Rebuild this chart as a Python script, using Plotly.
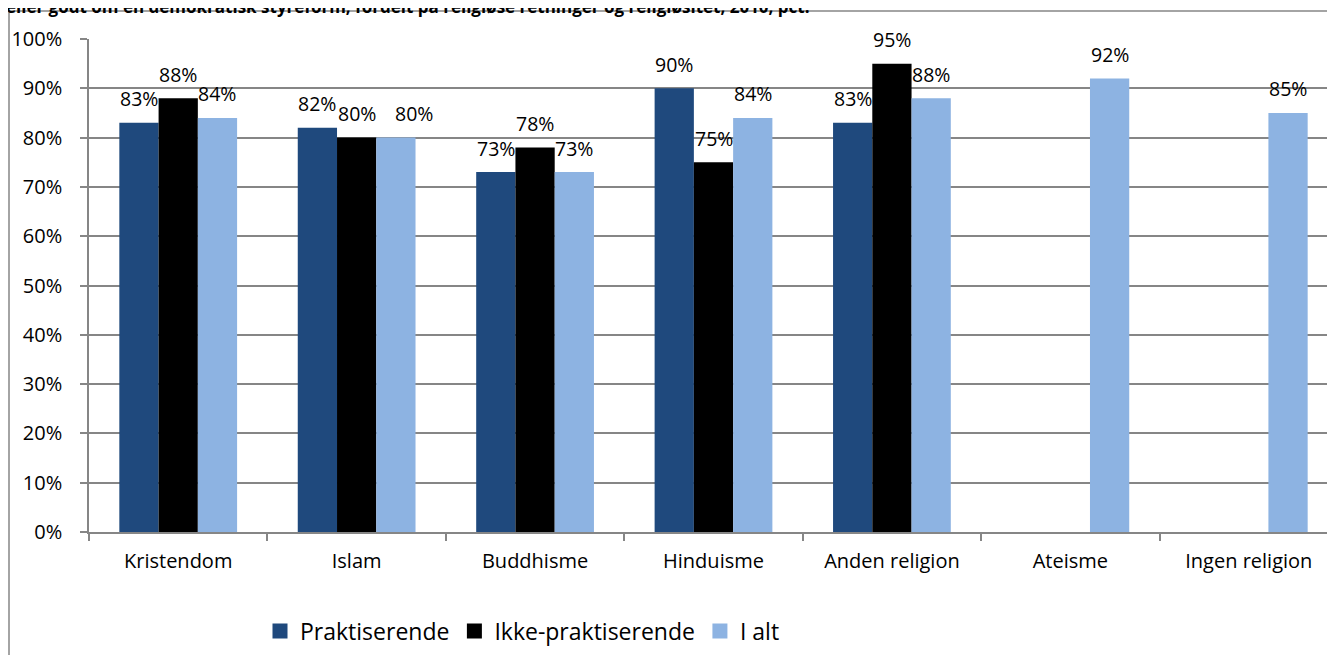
import plotly.graph_objects as go

categories = ["Kristendom", "Islam", "Buddhisme", "Hinduisme", "Anden religion", "Ateisme", "Ingen religion"]
series_names = ["Praktiserende", "Ikke-praktiserende", "I alt"]
praktiserende = [83, 82, 73, 90, 83, None, None]
ikke_praktiserende = [88, 80, 78, 75, 95, None, None]
i_alt = [84, 80, 73, 84, 88, 92, 85]
y_ticks = [0, 10, 20, 30, 40, 50, 60, 70, 80, 90, 100]
title_text = "eller godt om en demokratisk styreform, fordelt på religiøse retninger og religiøsitet, 2010, pct."

colors = ["#1F497D", "#000000", "#8DB3E2"]
series_values = [praktiserende, ikke_praktiserende, i_alt]
# label nudges (styling): (series index, category index) -> x shift in px
label_nudge = {(2, 1): 18}

W, H = 1335, 655
L, R, T, B = 81, 5, 31, 131
plot_w = W - L - R
plot_h = H - T - B
BARGAP = 0.34
FONT = "Open Sans"
GRID = "#868686"


def px_x(fx):
    return (fx - L) / plot_w


def px_y(fy):
    return (plot_h + T - fy) / plot_h


fig = go.Figure()
for name, vals, col in zip(series_names, series_values, colors):
    fig.add_trace(go.Bar(
        name=name, x=categories, y=vals, showlegend=False,
        marker=dict(color=col, line=dict(width=0)),
    ))
# legend entries with larger square swatches
for name, col in zip(series_names, colors):
    fig.add_trace(go.Scatter(
        name=name, x=[None], y=[None], mode="markers",
        marker=dict(symbol="square", size=15, color=col), showlegend=True,
    ))

# data labels above bars
bar_w = (1 - BARGAP) / len(series_names)
annotations = []
for j, vals in enumerate(series_values):
    off = (j - (len(series_names) - 1) / 2) * bar_w
    for i, v in enumerate(vals):
        if v is None:
            continue
        annotations.append(dict(
            x=i + off, y=v, xref="x", yref="y",
            text=f"{v}%", showarrow=False, yanchor="middle", yshift=24,
            xshift=label_nudge.get((j, i), 0),
            font=dict(family=FONT, size=19.5, color="#000000"),
        ))

# partially visible title (cut at the top edge, as in the source)
annotations.append(dict(
    x=px_x(-4), y=px_y(12), xref="paper", yref="paper",
    xanchor="left", yanchor="bottom", showarrow=False, text="<b>" + title_text + "</b>",
    font=dict(family=FONT, size=17, color="#000000"),
))

fig.update_layout(
    width=W, height=H,
    margin=dict(l=L, r=R, t=T, b=B, autoexpand=False),
    paper_bgcolor="#FFFFFF", plot_bgcolor="#FFFFFF",
    barmode="group", bargap=BARGAP, bargroupgap=0,
    font=dict(family=FONT, size=20, color="#000000"),
    annotations=annotations,
    showlegend=True,
    legend=dict(
        orientation="h", x=px_x(252), xanchor="left",
        y=px_y(623), yanchor="middle",
        font=dict(family=FONT, size=23, color="#000000"),
        traceorder="normal", bgcolor="rgba(0,0,0,0)",
    ),
    shapes=[dict(
        type="rect", xref="paper", yref="paper",
        x0=px_x(1), x1=1.05, y0=-0.5, y1=px_y(3),
        line=dict(color=GRID, width=1.5), fillcolor="rgba(0,0,0,0)", layer="below",
    )],
    xaxis=dict(
        type="category", showgrid=False, showline=True, linecolor=GRID, linewidth=1.5,
        ticks="outside", ticklen=7, tickcolor=GRID, tickwidth=1.5, tickson="boundaries",
        tickfont=dict(family=FONT, size=20), ticklabelstandoff=10,
    ),
    yaxis=dict(
        range=[0, 100], tickvals=y_ticks, ticktext=[f"{t}%" for t in y_ticks],
        showgrid=True, gridcolor=GRID, gridwidth=1.5,
        showline=True, linecolor=GRID, linewidth=1.5,
        ticks="outside", ticklen=7, tickcolor=GRID, tickwidth=1.5,
        tickfont=dict(family=FONT, size=20), ticklabelstandoff=14, zeroline=False,
    ),
)

fig.write_html("out.html")
